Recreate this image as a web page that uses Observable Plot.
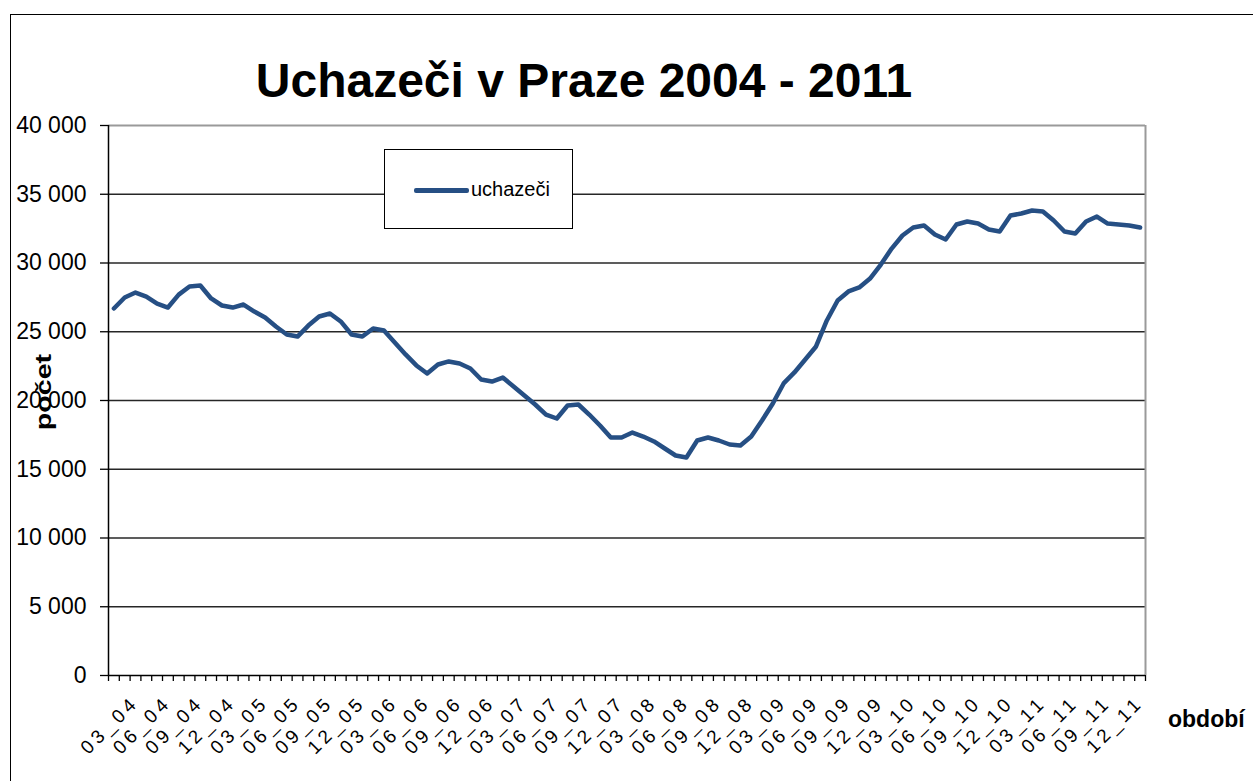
<!DOCTYPE html>
<html>
<head>
<meta charset="utf-8">
<script src="https://cdn.jsdelivr.net/npm/d3@7"></script>
<script src="https://cdn.jsdelivr.net/npm/@observablehq/plot@0.6"></script>
<style>
  html, body { margin: 0; padding: 0; background: #fff; overflow: hidden; }
  body { width: 1253px; height: 781px; position: relative; font-family: "Liberation Sans", Arial, sans-serif; }
  #frame { position: absolute; left: 10px; top: 14px; width: 1260px; height: 800px; border-left: 1.5px solid #000; border-top: 1.5px solid #000; }
  #chart { position: absolute; left: 0; top: 0; }
  #chart g[aria-label="x-axis tick label"] text { letter-spacing: 4px; }
  #title { position: absolute; left: 0; width: 1168px; top: 57px; text-align: center; font-size: 48px; font-weight: bold; line-height: 48px; color: #000; white-space: nowrap; }
  #legend { position: absolute; left: 384px; top: 149px; width: 187px; height: 78px; border: 1.3px solid #000; background: #fff; }
  #legend .sw { position: absolute; left: 29px; top: 38px; width: 55px; height: 4.5px; border-radius: 2px; background: #264f84; }
  #legend .lb { position: absolute; left: 86px; top: 27px; font-size: 20px; line-height: 24px; color: #000; }
  #ylab { position: absolute; left: 44px; top: 392px; font-size: 22px; font-weight: bold; transform: translate(-50%, -50%) rotate(-90deg) scaleX(1.3); white-space: nowrap; }
  #xlab { position: absolute; left: 1168px; top: 706px; font-size: 23px; font-weight: bold; line-height: 26px; white-space: nowrap; }
</style>
</head>
<body>
<div id="frame"></div>
<div id="chart"></div>
<div id="title">Uchazeči v Praze 2004 - 2011</div>
<div id="legend"><div class="sw"></div><div class="lb">uchazeči</div></div>
<div id="ylab">počet</div>
<div id="xlab">období</div>
<script>
// ---- data ----
const months = ["01","02","03","04","05","06","07","08","09","10","11","12"];
const years = ["04","05","06","07","08","09","10","11"];
const periods = years.flatMap(y => months.map(m => m + "_" + y));
const values = [
  26690, 27490, 27850, 27560, 27050, 26760, 27700, 28290, 28360, 27420, 26910, 26760, // 2004
  26980, 26470, 26040, 25380, 24800, 24650, 25450, 26110, 26330, 25750, 24800, 24650, // 2005
  25240, 25090, 24220, 23350, 22550, 21960, 22620, 22840, 22690, 22330, 21530, 21380, // 2006
  21670, 21020, 20360, 19710, 18980, 18690, 19640, 19710, 18980, 18180, 17310, 17310, // 2007
  17670, 17380, 17020, 16510, 16000, 15850, 17090, 17310, 17090, 16800, 16730, 17380, // 2008
  18550, 19780, 21240, 22040, 22980, 23930, 25820, 27270, 27930, 28220, 28870, 29890, // 2009
  31050, 32000, 32580, 32730, 32070, 31710, 32800, 33020, 32870, 32440, 32290, 33450, // 2010
  33600, 33820, 33750, 33090, 32290, 32150, 33020, 33380, 32870, 32800, 32730, 32580  // 2011
];
const yTicks = [0, 5000, 10000, 15000, 20000, 25000, 30000, 35000, 40000];

// ---- build ----
const data = values.map((v, i) => ({i: i + 0.5, period: periods[i], value: v}));
const labelTicks = data.filter((d, i) => i % 3 === 2).map(d => d.i);
const labelOf = new Map(data.map(d => [d.i, d.period]));
const fmt = v => d3.format(",")(v).replace(/,/g, " ");

const chart = Plot.plot({
  width: 1253,
  height: 781,
  marginLeft: 108,
  marginRight: 108,
  marginTop: 125,
  marginBottom: 106,
  style: {fontFamily: "'Liberation Sans', Arial, sans-serif", background: "transparent", color: "#000"},
  x: {type: "linear", domain: [0, periods.length]},
  y: {domain: [0, 40000]},
  marks: [
    Plot.gridY(yTicks.filter(t => t > 0 && t < 40000), {stroke: "#000", strokeOpacity: 0.85, strokeWidth: 1.3}),
    Plot.ruleY([40000], {stroke: "#9a9a9a", strokeWidth: 2}),
    Plot.ruleX([periods.length], {stroke: "#9a9a9a", strokeWidth: 2}),
    Plot.axisY({ticks: yTicks, tickSize: 8, tickPadding: 14, tickFormat: fmt, fontSize: 23, label: null, strokeWidth: 1.3}),
    Plot.axisX({ticks: d3.range(0, periods.length + 1), tickSize: 6, tickFormat: () => "", label: null, strokeWidth: 1.3}),
    Plot.axisX({ticks: labelTicks, tickSize: 0, tickPadding: 24, tickFormat: d => labelOf.get(d), tickRotate: -45, textAnchor: "end", fontSize: 19, label: null}),
    Plot.ruleY([0], {stroke: "#000", strokeWidth: 1.5}),
    Plot.ruleX([0], {stroke: "#000", strokeWidth: 1.5}),
    Plot.line(data, {x: "i", y: "value", stroke: "#264f84", strokeWidth: 4.5, strokeLinejoin: "round", strokeLinecap: "round"})
  ]
});
document.getElementById("chart").appendChild(chart);
</script>
</body>
</html>
